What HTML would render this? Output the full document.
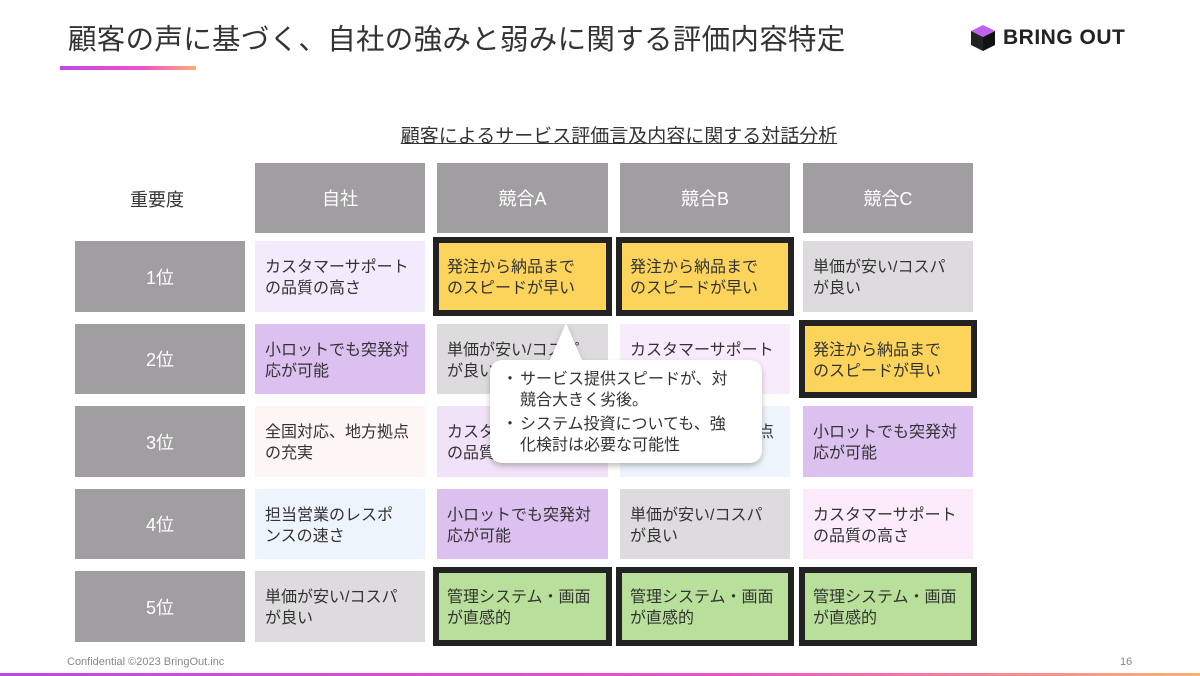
<!DOCTYPE html>
<html><head><meta charset="utf-8"><style>
*{margin:0;padding:0;box-sizing:border-box}
body{width:1200px;height:676px;background:#fff;position:relative;overflow:hidden;font-family:"Liberation Sans","Noto Sans CJK JP",sans-serif;color:#333}
.a{position:absolute}
.title{left:68px;top:17px;font-size:28.5px;color:#333;letter-spacing:0.3px}
.bar{left:60px;top:66px;width:136px;height:4px;background:linear-gradient(90deg,#c248e8,#f050c8 60%,#fcb070)}
.logo{left:1003px;top:26px;font-size:21px;font-weight:bold;color:#222;letter-spacing:0.5px}
.sub{left:0;width:1238px;top:121px;text-align:center;font-size:19px;text-decoration:underline;color:#333}
.h{background:#a09ea0;color:#fff;font-size:18px;display:flex;align-items:center;justify-content:center}
.c{font-size:16px;line-height:21px;padding:16px 6px 0 10px;color:#333;white-space:nowrap}
.box{background:#222}
.foot{top:656px;font-size:11px;color:#888}
</style></head><body>
<div class="a title">顧客の声に基づく、自社の強みと弱みに関する評価内容特定</div>
<div class="a bar"></div>
<svg class="a" style="left:970px;top:24px" width="26" height="28" viewBox="0 0 26 28"><polygon points="13,1 25,7 13,13 1,7" fill="#c060f0"/><polygon points="1,7 13,13 13,27 1,21" fill="#222"/><polygon points="25,7 13,13 13,27 25,21" fill="#111"/></svg>
<div class="a logo">BRING OUT</div>
<div class="a sub">顧客によるサービス評価言及内容に関する対話分析</div>
<div class="a" style="left:130px;top:186px;font-size:18px;color:#333">重要度</div>

<div class="a h" style="left:255px;top:163px;width:170px;height:70px">自社</div>
<div class="a h" style="left:437px;top:163px;width:171px;height:70px">競合A</div>
<div class="a h" style="left:620px;top:163px;width:170px;height:70px">競合B</div>
<div class="a h" style="left:803px;top:163px;width:170px;height:70px">競合C</div>

<div class="a h" style="left:75px;top:241px;width:170px;height:71px">1位</div>
<div class="a h" style="left:75px;top:324px;width:170px;height:70px">2位</div>
<div class="a h" style="left:75px;top:406px;width:170px;height:71px">3位</div>
<div class="a h" style="left:75px;top:489px;width:170px;height:70px">4位</div>
<div class="a h" style="left:75px;top:571px;width:170px;height:71px">5位</div>

<div class="a box" style="left:433px;top:237px;width:179px;height:79px"></div>
<div class="a box" style="left:616px;top:237px;width:178px;height:79px"></div>
<div class="a box" style="left:799px;top:320px;width:178px;height:78px"></div>
<div class="a box" style="left:433px;top:567px;width:179px;height:79px"></div>
<div class="a box" style="left:616px;top:567px;width:178px;height:79px"></div>
<div class="a box" style="left:799px;top:567px;width:178px;height:79px"></div>

<div class="a c" style="left:255px;top:241px;width:170px;height:71px;background:#f3eafc">カスタマーサポート<br>の品質の高さ</div>
<div class="a c" style="left:439px;top:243px;width:167px;height:67px;background:#fcd45c;padding-top:14px;padding-left:8px">発注から納品まで<br>のスピードが早い</div>
<div class="a c" style="left:622px;top:243px;width:166px;height:67px;background:#fcd45c;padding-top:14px;padding-left:8px">発注から納品まで<br>のスピードが早い</div>
<div class="a c" style="left:803px;top:241px;width:170px;height:71px;background:#dddbdd">単価が安い/コスパ<br>が良い</div>

<div class="a c" style="left:255px;top:324px;width:170px;height:70px;background:#dcc0f0">小ロットでも突発対<br>応が可能</div>
<div class="a c" style="left:437px;top:324px;width:171px;height:70px;background:#dddbdd">単価が安い/コスパ<br>が良い</div>
<div class="a c" style="left:620px;top:324px;width:170px;height:70px;background:#f8ebfb">カスタマーサポート<br>の品質の高さ</div>
<div class="a c" style="left:805px;top:326px;width:166px;height:66px;background:#fcd45c;padding-top:14px;padding-left:8px">発注から納品まで<br>のスピードが早い</div>

<div class="a c" style="left:255px;top:406px;width:170px;height:71px;background:#fdf6f4">全国対応、地方拠点<br>の充実</div>
<div class="a c" style="left:437px;top:406px;width:171px;height:71px;background:#f0e2f8">カスタマーサポート<br>の品質の高さ</div>
<div class="a c" style="left:620px;top:406px;width:170px;height:71px;background:#eef4fc">全国対応、地方拠点<br>の充実</div>
<div class="a c" style="left:803px;top:406px;width:170px;height:71px;background:#dcc0f0">小ロットでも突発対<br>応が可能</div>

<div class="a c" style="left:255px;top:489px;width:170px;height:70px;background:#eef4fc">担当営業のレスポ<br>ンスの速さ</div>
<div class="a c" style="left:437px;top:489px;width:171px;height:70px;background:#dcc0f0">小ロットでも突発対<br>応が可能</div>
<div class="a c" style="left:620px;top:489px;width:170px;height:70px;background:#dddbdd">単価が安い/コスパ<br>が良い</div>
<div class="a c" style="left:803px;top:489px;width:170px;height:70px;background:#fbebfb">カスタマーサポート<br>の品質の高さ</div>

<div class="a c" style="left:255px;top:571px;width:170px;height:71px;background:#dddbdd">単価が安い/コスパ<br>が良い</div>
<div class="a c" style="left:439px;top:573px;width:167px;height:67px;background:#b8e09a;padding-top:14px;padding-left:8px">管理システム・画面<br>が直感的</div>
<div class="a c" style="left:622px;top:573px;width:166px;height:67px;background:#b8e09a;padding-top:14px;padding-left:8px">管理システム・画面<br>が直感的</div>
<div class="a c" style="left:805px;top:573px;width:166px;height:67px;background:#b8e09a;padding-top:14px;padding-left:8px">管理システム・画面<br>が直感的</div>

<svg class="a" style="left:480px;top:315px" width="295" height="160">
<defs><filter id="s" x="-10%" y="-10%" width="120%" height="130%"><feDropShadow dx="0" dy="3" stdDeviation="3" flood-opacity="0.25"/></filter></defs>
<path d="M24 45 H70 L86 8 L102 45 H268 Q282 45 282 59 V134 Q282 148 268 148 H24 Q10 148 10 134 V59 Q10 45 24 45 Z" fill="#fff" filter="url(#s)"/>
</svg>
<div class="a" style="left:502px;top:369px;font-size:16px;line-height:21px;color:#333;white-space:nowrap">
<div style="display:flex"><span style="width:18px">・</span><span>サービス提供スピードが、対<br>競合大きく劣後。</span></div>
<div style="display:flex;margin-top:3px"><span style="width:18px">・</span><span>システム投資についても、強<br>化検討は必要な可能性</span></div>
</div>

<div class="a foot" style="left:67px">Confidential ©2023 BringOut.inc</div>
<div class="a foot" style="left:1120px">16</div>
<div class="a" style="left:0;top:673px;width:1200px;height:3px;background:linear-gradient(90deg,#c248e8,#f050c8 60%,#fcb070)"></div>
</body></html>
